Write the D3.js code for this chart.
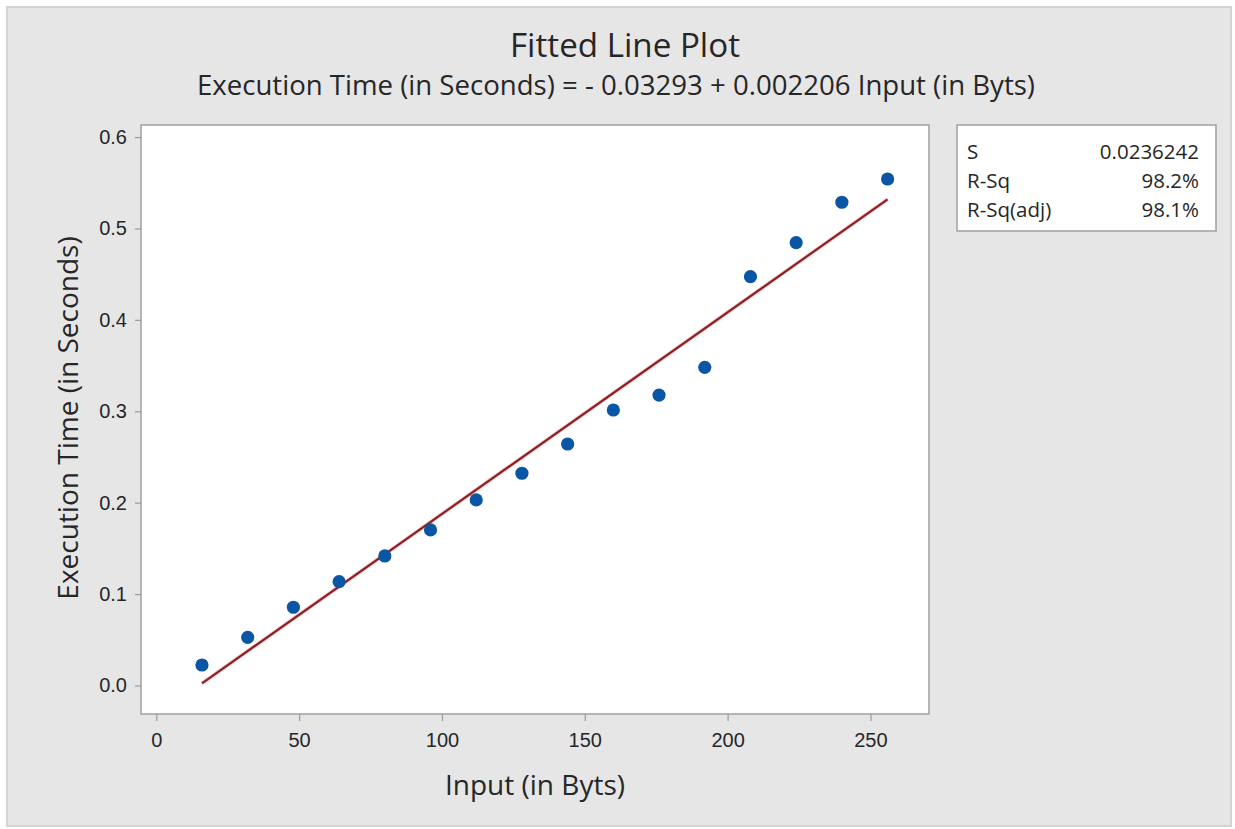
<!DOCTYPE html>
<html>
<head>
<meta charset="utf-8">
<script src="https://cdn.jsdelivr.net/npm/d3@7"></script>
<style>
  html, body { margin: 0; padding: 0; background: #ffffff; }
  svg { display: block; font-family: "Open Sans", "Noto Sans", sans-serif; }
</style>
</head>
<body>
<svg id="chart" width="1235" height="829"></svg>
<script>
// Observations: input size (bytes) and measured execution time (seconds)
const inputBytes = [16, 32, 48, 64, 80, 96, 112, 128, 144, 160, 176, 192, 208, 224, 240, 256];
const execSeconds = [0.0224, 0.0527, 0.0856, 0.1136, 0.1417, 0.1702, 0.2030, 0.2322,
                     0.2642, 0.3014, 0.3177, 0.3481, 0.4473, 0.4845, 0.5287, 0.5541];

// Regression fit and summary statistics
const intercept = -0.03293;
const slope = 0.002206;
const statLabels = ["S", "R-Sq", "R-Sq(adj)"];
const statValues = ["0.0236242", "98.2%", "98.1%"];

// Axis ticks
const xTicks = [0, 50, 100, 150, 200, 250];
const yTicks = [0.0, 0.1, 0.2, 0.3, 0.4, 0.5, 0.6];

const svg = d3.select("#chart");
const W = 1235, H = 829;
const ink = "#262626";

// Outer panel
svg.append("rect")
  .attr("x", 7).attr("y", 7).attr("width", W - 11).attr("height", H - 10)
  .attr("fill", "#e6e6e6").attr("stroke", "#d4d4d4").attr("stroke-width", 2);

const plot = { left: 141, top: 125, right: 929, bottom: 714 };

const x = d3.scaleLinear().domain([-5.35, 270.5]).range([plot.left, plot.right]);
const y = d3.scaleLinear().domain([-0.0312, 0.6132]).range([plot.bottom, plot.top]);

// Plot area
svg.append("rect")
  .attr("x", plot.left).attr("y", plot.top)
  .attr("width", plot.right - plot.left).attr("height", plot.bottom - plot.top)
  .attr("fill", "#ffffff").attr("stroke", "#a6a6a6").attr("stroke-width", 1.6);

// Axes
const xAxis = d3.axisBottom(x).tickValues(xTicks).tickFormat(d3.format("d"))
  .tickSizeInner(7).tickSizeOuter(0).tickPadding(12);
const yAxis = d3.axisLeft(y).tickValues(yTicks).tickFormat(d3.format(".1f"))
  .tickSizeInner(6).tickSizeOuter(0).tickPadding(8);

const gx = svg.append("g").attr("transform", `translate(0,${plot.bottom})`).call(xAxis);
const gy = svg.append("g").attr("transform", `translate(${plot.left},0)`).call(yAxis);
[gx, gy].forEach(g => {
  g.select(".domain").remove();
  g.selectAll(".tick line").attr("stroke", "#9a9a9a").attr("stroke-width", 1.2);
  g.selectAll(".tick text").attr("fill", ink).style("font-size", "20px");
});

// Fitted regression line
const xMin = d3.min(inputBytes), xMax = d3.max(inputBytes);
const fitted = [xMin, xMax].map(v => [v, intercept + slope * v]);
const fitLine = d3.line().x(d => x(d[0])).y(d => y(d[1]));
svg.append("path")
  .datum(fitted).attr("d", fitLine)
  .attr("fill", "none").attr("stroke", "#e89a9a").attr("stroke-width", 3.8).attr("opacity", 0.5);
svg.append("path")
  .datum(fitted).attr("d", fitLine)
  .attr("fill", "none").attr("stroke", "#8e1f24").attr("stroke-width", 2.2);

// Data points
svg.append("g").selectAll("circle")
  .data(inputBytes.map((v, i) => [v, execSeconds[i]]))
  .join("circle")
  .attr("cx", d => x(d[0])).attr("cy", d => y(d[1]))
  .attr("r", 6.6).attr("fill", "#0a56a4");

// Titles
svg.append("text").attr("x", 625).attr("y", 57).attr("text-anchor", "middle")
  .attr("fill", ink).style("font-size", "32px")
  .attr("textLength", 230).attr("lengthAdjust", "spacingAndGlyphs")
  .text("Fitted Line Plot");
svg.append("text").attr("x", 616).attr("y", 95).attr("text-anchor", "middle")
  .attr("fill", ink).style("font-size", "26.5px")
  .attr("textLength", 838).attr("lengthAdjust", "spacingAndGlyphs")
  .text(`Execution Time (in Seconds) = - ${Math.abs(intercept).toFixed(5)} + ${slope.toFixed(6)} Input (in Byts)`);

svg.append("text").attr("x", 535).attr("y", 795).attr("text-anchor", "middle")
  .attr("fill", ink).style("font-size", "28px").text("Input (in Byts)");
svg.append("text")
  .attr("transform", "translate(78,418) rotate(-90)")
  .attr("text-anchor", "middle")
  .attr("fill", ink).style("font-size", "28px").text("Execution Time (in Seconds)");

// Summary statistics box
const box = { left: 957, top: 125, right: 1216, bottom: 231 };
svg.append("rect")
  .attr("x", box.left).attr("y", box.top)
  .attr("width", box.right - box.left).attr("height", box.bottom - box.top)
  .attr("fill", "#ffffff").attr("stroke", "#a6a6a6").attr("stroke-width", 1.6);
const rowY = d3.scalePoint().domain(statLabels).range([159, 217]);
statLabels.forEach((lab, i) => {
  svg.append("text").attr("x", box.left + 10).attr("y", rowY(lab))
    .attr("fill", ink).style("font-size", "20.5px").text(lab);
  svg.append("text").attr("x", box.right - 17).attr("y", rowY(lab))
    .attr("text-anchor", "end")
    .attr("fill", ink).style("font-size", "20.5px").text(statValues[i]);
});
</script>
</body>
</html>
